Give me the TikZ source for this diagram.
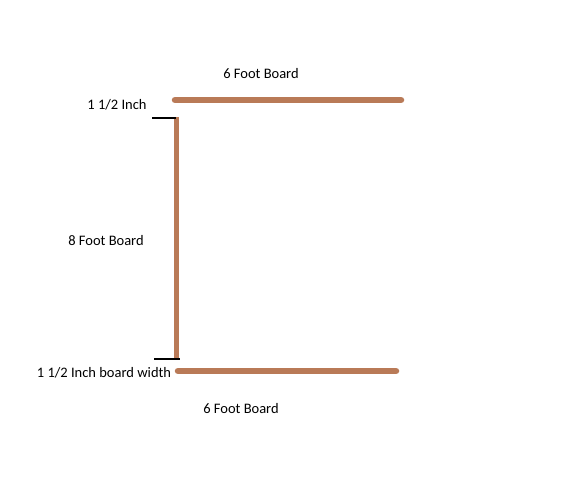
\documentclass[tikz,border=0pt]{standalone}
\usepackage{fontspec}
\setmainfont{Carlito}
\definecolor{board}{RGB}{185,122,87}
\begin{document}
\begin{tikzpicture}[x=1pt,y=-1pt,
  boardline/.style={draw=board,line width=6.5pt,line cap=round},
  vboard/.style={draw=board,line width=5pt},
  tick/.style={draw=black,line width=2.5pt},
  lbl/.style={font=\fontsize{14.5}{17}\selectfont,inner sep=0pt}]
\useasboundingbox[fill=white] (0,0) rectangle (588,499);
\coordinate (t1) at (175,100);
\coordinate (t2) at (401,100);
\coordinate (v1) at (176,117);
\coordinate (v2) at (176,358);
\coordinate (b1) at (178,371);
\coordinate (b2) at (396,371);
\coordinate (k1a) at (152,118);
\coordinate (k1b) at (176,118);
\coordinate (k2a) at (154,359);
\coordinate (k2b) at (180,359);
\draw[boardline] (t1) -- (t2);
\draw[vboard] (v1) -- (v2);
\draw[boardline] (b1) -- (b2);
\draw[tick] (k1a) -- (k1b);
\draw[tick] (k2a) -- (k2b);
\node[lbl] (topl) at (261,74) {6 Foot Board};
\node[lbl] (inch) at (117,105) {1 1/2 Inch};
\node[lbl] (eight) at (106,241) {8 Foot Board};
\node[lbl] (width) at (104,373) {1 1/2 Inch board width};
\node[lbl] (botl) at (241,409) {6 Foot Board};
\end{tikzpicture}
\end{document}
